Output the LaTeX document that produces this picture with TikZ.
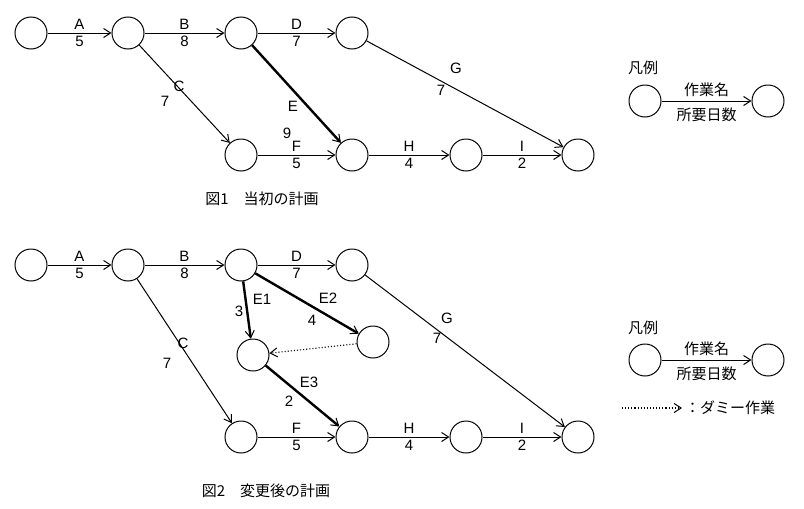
\documentclass[tikz,border=0pt]{standalone}
\usepackage{fontspec}
\setmainfont{Liberation Sans}
\newfontfamily\jp{Noto Sans CJK JP}
\usetikzlibrary{arrows.meta}
\begin{document}
\begin{tikzpicture}[x=1pt,y=-1pt,
  ev/.style={circle,draw,line width=1pt,minimum size=32pt,inner sep=0pt},
  act/.style={line width=1pt,-{Straight Barb[length=7pt,width=9pt,line width=1pt]}},
  crit/.style={act,line width=2.4pt},
  dum/.style={line width=1.1pt,dotted,-{Straight Barb[length=7pt,width=9pt,line width=1pt]}},
  lb/.style={font=\fontsize{15}{15}\selectfont,inner sep=1pt},
  ab/.style={lb,above=2pt},
  bl/.style={lb,below=2pt},
  jl/.style={font=\jp\fontsize{15}{15}\selectfont,inner sep=1pt}]
\useasboundingbox (0,0) rectangle (804,509);
% Figure 1
\node[ev] (a1) at (31,33) {};
\node[ev] (b1) at (128,33) {};
\node[ev] (c1) at (241,33) {};
\node[ev] (d1) at (352,33) {};
\node[ev] (f1) at (241,155) {};
\node[ev] (g1) at (352,155) {};
\node[ev] (h1) at (466,155) {};
\node[ev] (i1) at (578,155) {};
\draw[act] (a1) -- node[ab]{A} node[bl]{5} (b1);
\draw[act] (b1) -- node[ab]{B} node[bl]{8} (c1);
\draw[act] (c1) -- node[ab]{D} node[bl]{7} (d1);
\draw[act] (b1) -- (f1);
\draw[crit] (c1) -- (g1);
\draw[act] (d1) -- (i1);
\draw[act] (f1) -- node[ab]{F} node[bl]{5} (g1);
\draw[act] (g1) -- node[ab]{H} node[bl]{4} (h1);
\draw[act] (h1) -- node[ab]{I} node[bl]{2} (i1);
\node[lb] (lc1) at (179,86) {C};
\node[lb] (lc1n) at (165,101) {7};
\node[lb] (le1) at (293,106) {E};
\node[lb] (le1n) at (287,133) {9};
\node[lb] (lg1) at (456,68) {G};
\node[lb] (lg1n) at (441,90) {7};
\node[jl] (cap1) at (262,199) {図1\quad 当初の計画};
% legend 1
\node[jl] (lgd1) at (643,68) {凡例};
\node[ev] (la1) at (645,101) {};
\node[ev] (lb1) at (768,101) {};
\draw[act] (la1) -- node[jl,above=3pt]{作業名} node[jl,below=5pt]{所要日数} (lb1);
% Figure 2
\node[ev] (a2) at (31,265) {};
\node[ev] (b2) at (128,265) {};
\node[ev] (c2) at (241,265) {};
\node[ev] (d2) at (352,265) {};
\node[ev] (e12) at (253,355) {};
\node[ev] (e22) at (373,342) {};
\node[ev] (f2) at (241,437) {};
\node[ev] (g2) at (352,437) {};
\node[ev] (h2) at (466,437) {};
\node[ev] (i2) at (578,437) {};
\draw[act] (a2) -- node[ab]{A} node[bl]{5} (b2);
\draw[act] (b2) -- node[ab]{B} node[bl]{8} (c2);
\draw[act] (c2) -- node[ab]{D} node[bl]{7} (d2);
\draw[act] (b2) -- (f2);
\draw[crit] (c2) -- (e12);
\draw[crit] (c2) -- (e22);
\draw[dum] (e22) -- (e12);
\draw[crit] (e12) -- (g2);
\draw[act] (d2) -- (i2);
\draw[act] (f2) -- node[ab]{F} node[bl]{5} (g2);
\draw[act] (g2) -- node[ab]{H} node[bl]{4} (h2);
\draw[act] (h2) -- node[ab]{I} node[bl]{2} (i2);
\node[lb] (lc2) at (183,343) {C};
\node[lb] (lc2n) at (167,363) {7};
\node[lb] (le12) at (262,299) {E1};
\node[lb] (le12n) at (239,311) {3};
\node[lb] (le22) at (328,298) {E2};
\node[lb] (le22n) at (312,320) {4};
\node[lb] (le32) at (309,382) {E3};
\node[lb] (le32n) at (289,401) {2};
\node[lb] (lg2) at (447,318) {G};
\node[lb] (lg2n) at (437,338) {7};
\node[jl] (cap2) at (266,491) {図2\quad 変更後の計画};
% legend 2
\node[jl] (lgd2) at (643,328) {凡例};
\node[ev] (la2) at (645,360) {};
\node[ev] (lb2) at (768,360) {};
\draw[act] (la2) -- node[jl,above=3pt]{作業名} node[jl,below=5pt]{所要日数} (lb2);
\coordinate (ds) at (622,408);
\coordinate (de) at (682,408);
\draw[dum] (ds) -- (de);
\node[jl,anchor=west] (dtxt) at (684,408) {：ダミー作業};
\end{tikzpicture}
\end{document}
